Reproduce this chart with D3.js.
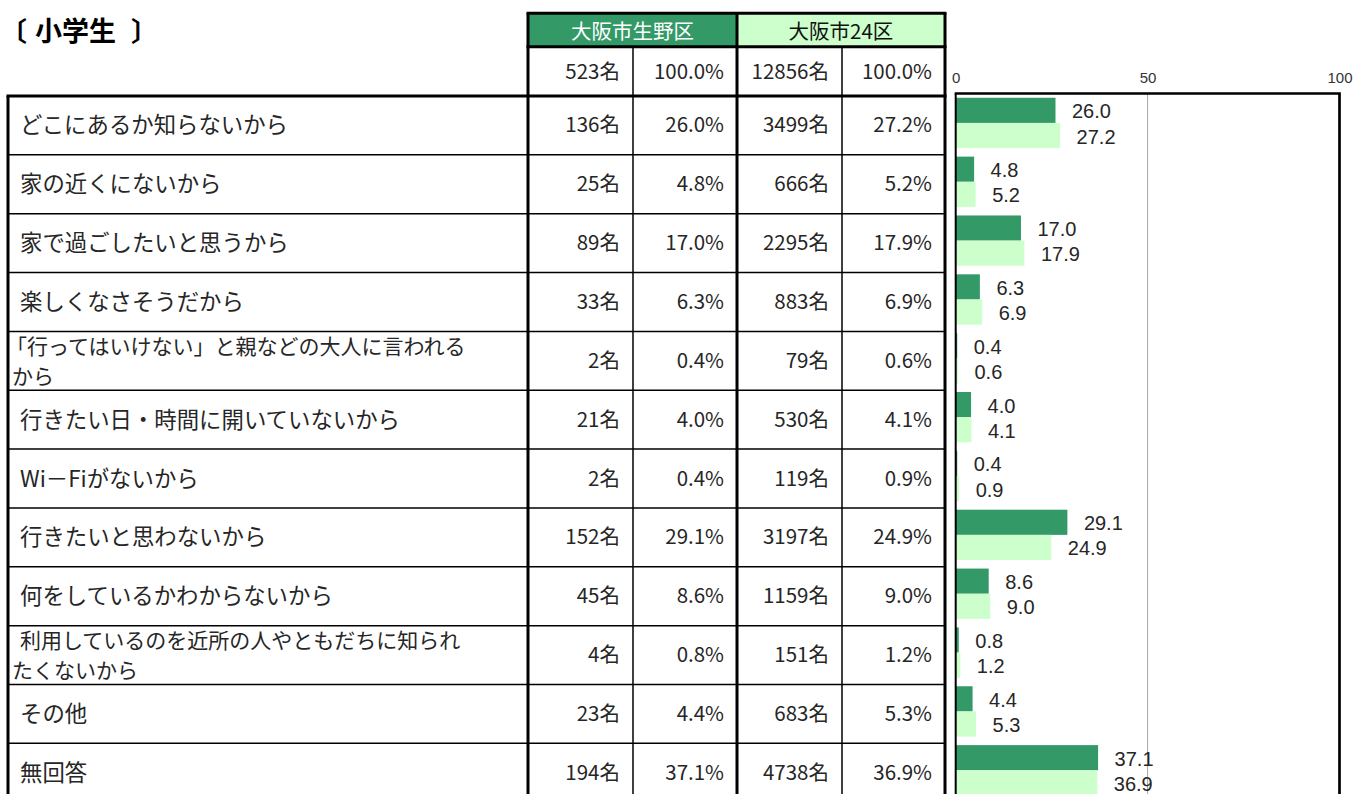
<!DOCTYPE html>
<html lang="ja">
<head>
<meta charset="utf-8">
<title>小学生 利用しない理由</title>
<script src="https://cdn.jsdelivr.net/npm/d3@7"></script>
<style>
  html, body { margin: 0; padding: 0; background: #ffffff; }
  svg { display: block; font-family: "Noto Sans CJK JP", "Noto Sans", sans-serif; }
</style>
</head>
<body>
<svg id="chart" width="1366" height="794"></svg>
<script>
// ---- data ----
const titleParts = ["〔", "小学生", "〕"];
const seriesNames = ["大阪市生野区", "大阪市24区"];
const totals = [523, 12856];
const categories = [
  "どこにあるか知らないから",
  "家の近くにないから",
  "家で過ごしたいと思うから",
  "楽しくなさそうだから",
  "「行ってはいけない」と親などの大人に言われる\nから",
  "行きたい日・時間に開いていないから",
  "Wi－Fiがないから",
  "行きたいと思わないから",
  "何をしているかわからないから",
  "利用しているのを近所の人やともだちに知られ\nたくないから",
  "その他",
  "無回答"
];
const ikunoCounts = [136, 25, 89, 33, 2, 21, 2, 152, 45, 4, 23, 194];
const ikunoPct    = [26.0, 4.8, 17.0, 6.3, 0.4, 4.0, 0.4, 29.1, 8.6, 0.8, 4.4, 37.1];
const cityCounts  = [3499, 666, 2295, 883, 79, 530, 119, 3197, 1159, 151, 683, 4738];
const cityPct     = [27.2, 5.2, 17.9, 6.9, 0.6, 4.1, 0.9, 24.9, 9.0, 1.2, 5.3, 36.9];
const axisTicks   = [0, 50, 100];

// ---- styling ----
const darkGreen = "#339966";
const lightGreen = "#ccffcc";
const textColor = "#262626";
const numFont = "\"Liberation Sans\", Arial, sans-serif";

const svg = d3.select("#chart");

// table geometry
const colX = [8, 528, 633, 737, 842, 945];
const headTop = 13.3, headMid = 46.7, tableTop = 96, rowH = 58.85;
const rowY = i => tableTop + i * rowH;

// title: bracket, word, bracket
const titleX = [0, 35, 131];
const title = svg.append("text")
  .attr("y", 29)
  .attr("dominant-baseline", "central")
  .attr("font-size", 27).attr("font-weight", 700)
  .attr("fill", "#000");
titleParts.forEach((t, i) => title.append("tspan").attr("x", titleX[i]).text(t));

// header cells
const heads = svg.append("g");
heads.append("rect").attr("x", colX[1]).attr("y", headTop)
  .attr("width", colX[3] - colX[1]).attr("height", headMid - headTop).attr("fill", darkGreen);
heads.append("rect").attr("x", colX[3]).attr("y", headTop)
  .attr("width", colX[5] - colX[3]).attr("height", headMid - headTop).attr("fill", lightGreen);
seriesNames.forEach((name, k) => {
  heads.append("text")
    .attr("x", (colX[1 + 2 * k] + colX[3 + 2 * k]) / 2)
    .attr("y", (headTop + headMid) / 2)
    .attr("text-anchor", "middle").attr("dominant-baseline", "central")
    .attr("font-size", 20.5)
    .attr("fill", k === 0 ? "#ffffff" : "#111")
    .text(name);
});

// number cells (right aligned)
const cellText = (x, y, txt) => svg.append("text")
  .attr("x", x - 13).attr("y", y)
  .attr("text-anchor", "end").attr("dominant-baseline", "central")
  .attr("font-size", 20.5).attr("fill", textColor)
  .text(txt);

const totalY = (headMid + tableTop) / 2 - 1;
cellText(colX[2], totalY, totals[0] + "名");
cellText(colX[3], totalY, "100.0%");
cellText(colX[4], totalY, totals[1] + "名");
cellText(colX[5], totalY, "100.0%");

categories.forEach((cat, i) => {
  const cy = rowY(i) + rowH / 2 - 2;
  cellText(colX[2], cy, ikunoCounts[i] + "名");
  cellText(colX[3], cy, ikunoPct[i].toFixed(1) + "%");
  cellText(colX[4], cy, cityCounts[i] + "名");
  cellText(colX[5], cy, cityPct[i].toFixed(1) + "%");

  // category label, one or two lines
  const lines = cat.split("\n");
  const wrapped = lines.length > 1;
  const gap = wrapped ? 30.5 : 0;
  const fs = wrapped ? 21 : 22.4;
  lines.forEach((ln, j) => {
    const ly = cy + (wrapped ? 1 : 0) + (j - (lines.length - 1) / 2) * gap;
    const lx = (j === 0 && !ln.startsWith("「")) ? 20 : (j === 0 ? 6 : 12);
    svg.append("text")
      .attr("x", lx).attr("y", ly)
      .attr("dominant-baseline", "central")
      .attr("font-size", fs).attr("fill", textColor)
      .text(ln);
  });
});

// table borders
const bottom = rowY(categories.length);
const lines = svg.append("g").attr("stroke", "#000").attr("fill", "none");
const hline = (x1, x2, y, w) => lines.append("line").attr("x1", x1).attr("x2", x2).attr("y1", y).attr("y2", y).attr("stroke-width", w);
const vline = (x, y1, y2, w) => lines.append("line").attr("x1", x).attr("x2", x).attr("y1", y1).attr("y2", y2).attr("stroke-width", w);

for (let i = 1; i < categories.length; i++) hline(colX[0], colX[5], rowY(i), 1.5);
hline(colX[1] - 1.5, colX[5] + 1.5, headTop, 3);
hline(colX[1] - 1.5, colX[5] + 1.5, headMid, 3);
hline(colX[0] - 1.5, colX[5] + 1.5, tableTop, 3);
vline(colX[0], tableTop, bottom, 3);
vline(colX[1], headTop, bottom, 3);
vline(colX[2], headMid, bottom, 1.5);
vline(colX[3], headTop, bottom, 3);
vline(colX[4], headMid, bottom, 1.5);
vline(colX[5], headTop, bottom, 3);

// ---- bar chart ----
const plotTop = 93.5, plotBottom = plotTop + 12 * rowH;
const x = d3.scaleLinear().domain([0, 100]).range([955.7, 1339.5]);
const y = d3.scaleBand().domain(categories)
  .range([plotTop, plotBottom]).paddingInner(0.145).paddingOuter(0.0725);
const sub = d3.scaleBand().domain([0, 1]).range([0, y.bandwidth()]);

// gridline at 50
svg.append("line")
  .attr("x1", x(50)).attr("x2", x(50))
  .attr("y1", plotTop).attr("y2", plotBottom)
  .attr("stroke", "#a6a6a6").attr("stroke-width", 1);

// tick labels
const axis = d3.axisTop(x).tickValues(axisTicks).tickSize(0).tickPadding(0).tickFormat(d3.format("d"));
const ax = svg.append("g").attr("transform", "translate(0,83)").call(axis);
ax.select(".domain").remove();
ax.selectAll("text").attr("font-size", 15).attr("fill", "#333")
  .attr("font-family", numFont);

const series = [ikunoPct, cityPct];
const fills = [darkGreen, lightGreen];
series.forEach((vals, k) => {
  const g = svg.append("g");
  g.selectAll("rect").data(vals).join("rect")
    .attr("x", x(0))
    .attr("y", (d, i) => y(categories[i]) + sub(k))
    .attr("width", d => x(d) - x(0))
    .attr("height", sub.bandwidth())
    .attr("fill", fills[k]);
  g.selectAll("text").data(vals).join("text")
    .attr("x", d => x(d) + 16.5)
    .attr("y", (d, i) => y(categories[i]) + sub(k) + sub.bandwidth() / 2 + 1)
    .attr("dominant-baseline", "central")
    .attr("font-family", numFont)
    .attr("font-size", 20).attr("fill", textColor)
    .text(d => d.toFixed(1));
});

// plot frame
svg.append("line").attr("x1", x(0)).attr("x2", x(0)).attr("y1", plotTop).attr("y2", plotBottom)
  .attr("stroke", "#000").attr("stroke-width", 2);
svg.append("path")
  .attr("d", `M${x(0) - 1},${plotTop}H${x(100)}V${plotBottom}`)
  .attr("fill", "none").attr("stroke", "#000").attr("stroke-width", 2.7);
</script>
</body>
</html>
